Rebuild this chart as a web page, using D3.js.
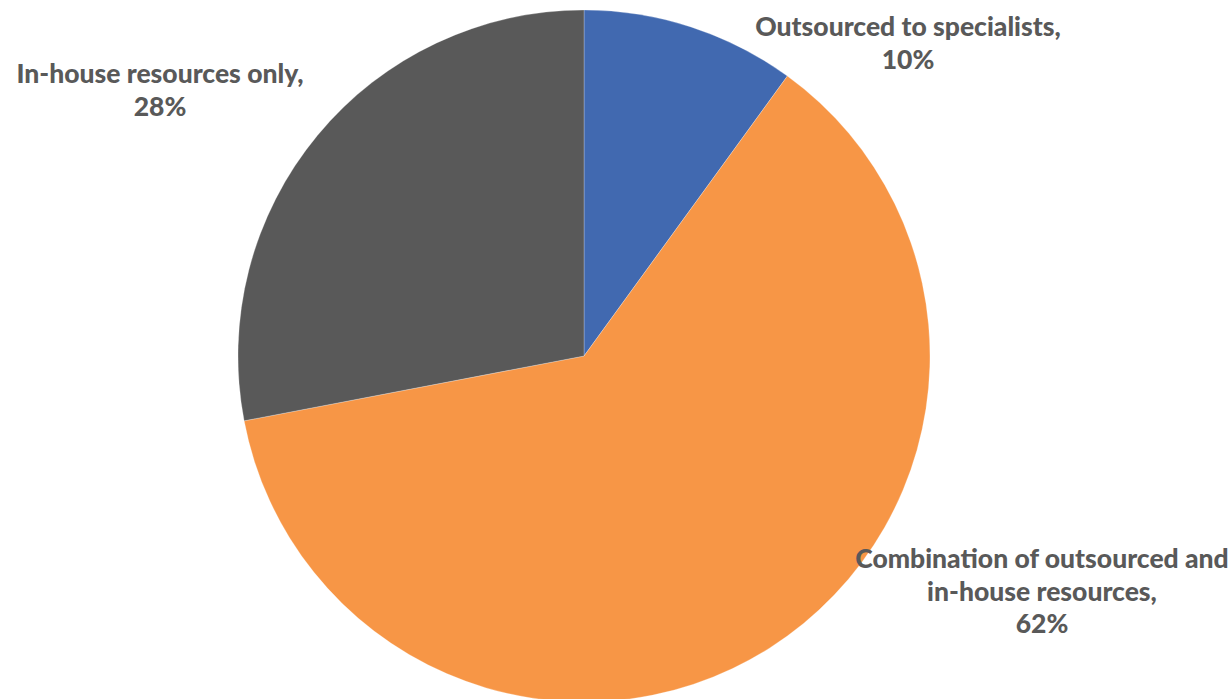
<!DOCTYPE html>
<html><head><meta charset="utf-8">
<script src="https://cdn.jsdelivr.net/npm/d3@7"></script>
<style>html,body{margin:0;padding:0;background:#fff;}svg{display:block;}</style>
</head><body>
<svg id="chart" width="1230" height="699"></svg>
<script>
const categories = ["Outsourced to specialists", "Combination of outsourced and in-house resources", "In-house resources only"];
const values = [10, 62, 28];
const colors = ["#4169B0", "#F79646", "#595959"];
const labelLines = [
  ["Outsourced to specialists,", "10%"],
  ["Combination of outsourced and", "in-house resources,", "62%"],
  ["In-house resources only,", "28%"]
];

const svg = d3.select("#chart");
const cx = 584, cy = 356, r = 346;
const pie = d3.pie().sort(null).value(d => d)(values);
const arc = d3.arc().innerRadius(0).outerRadius(r);
const g = svg.append("g").attr("transform", `translate(${cx},${cy})`);
g.selectAll("path").data(pie).enter().append("path")
  .attr("d", arc).attr("fill", (d,i) => colors[i])
  .attr("stroke", "#fff").attr("stroke-width", 0.5).attr("stroke-opacity", 0.5);

const labelPos = [[908, 36], [1042, 568], [160, 83]];
const lh = 32.5;
labelLines.forEach((lines, i) => {
  const t = svg.append("text")
    .attr("text-anchor", "middle")
    .attr("font-family", "Lato, 'Open Sans', sans-serif")
    .attr("font-weight", 900)
    .attr("font-size", 26.5)
    .attr("fill", "#595959");
  lines.forEach((s, j) => {
    t.append("tspan").attr("x", labelPos[i][0]).attr("y", labelPos[i][1] + j * lh).text(s);
  });
});
</script>
</body></html>
